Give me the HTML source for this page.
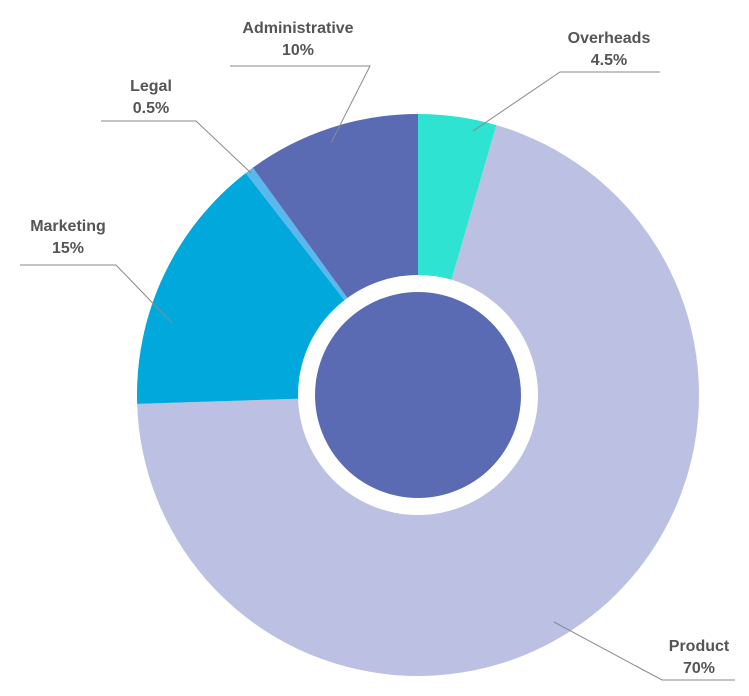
<!DOCTYPE html>
<html><head><meta charset="utf-8"><style>
html,body{margin:0;padding:0;background:#fff;}
svg{display:block;}
text{font-family:"Liberation Sans",sans-serif;font-weight:bold;font-size:16px;fill:#555;}
</style></head><body>
<svg width="749" height="696" viewBox="0 0 749 696">
<g id="slices"></g>
<circle cx="418" cy="395" r="120" fill="#fff"/>
<circle cx="418" cy="395" r="103" fill="#5a6ab3"/>
<g id="labels"></g>
</svg>
<script>
const categories = ["Overheads","Product","Marketing","Legal","Administrative"];
const values = [4.5, 70, 15, 0.5, 10];
const valueLabels = ["4.5%","70%","15%","0.5%","10%"];
const colors = ["#2ee3d2","#bcc0e2","#00a8dc","#5bb8ec","#5a6ab3"];
// label layout: [text center x, first line y, underline y, underline x1, x2, elbow x, target x, target y]
const layout = [
 [609,43,72,560,660,560,473,131],
 [699,651,680,662,735,662,554,622],
 [68,231,265,20,116,116,172,323],
 [151,91,121,101,196,196,251,173],
 [298,33,66,230,370,370,331,143]
];
const cx=418, cy=395, R=281;
const NS="http://www.w3.org/2000/svg";
const total=values.reduce((a,b)=>a+b,0);
const sg=document.getElementById('slices'), lg=document.getElementById('labels');
function pt(a,r){return [cx+r*Math.sin(a), cy-r*Math.cos(a)];}
let acc=0;
values.forEach((v,i)=>{
  const a0=acc/total*2*Math.PI; acc+=v; const a1=acc/total*2*Math.PI;
  const p0=pt(a0,R), p1=pt(a1,R);
  const large=(a1-a0)>Math.PI?1:0;
  const p=document.createElementNS(NS,'path');
  p.setAttribute('d',`M${cx},${cy} L${p0[0]},${p0[1]} A${R},${R} 0 ${large} 1 ${p1[0]},${p1[1]} Z`);
  p.setAttribute('fill',colors[i]);
  
  
  sg.appendChild(p);
  const L=layout[i];
  const pl=document.createElementNS(NS,'polyline');
  const ox = L[5]===L[3] ? L[4] : L[3];
  pl.setAttribute('points',`${ox},${L[2]} ${L[5]},${L[2]} ${L[6]},${L[7]}`);
  pl.setAttribute('fill','none');pl.setAttribute('stroke','#8a8a8a');pl.setAttribute('stroke-width','1');
  
  
  lg.appendChild(pl);
  const t1=document.createElementNS(NS,'text');
  t1.setAttribute('x',L[0]);t1.setAttribute('y',L[1]);t1.setAttribute('text-anchor','middle');
  t1.textContent=categories[i];
  
  
  lg.appendChild(t1);
  const t2=document.createElementNS(NS,'text');
  t2.setAttribute('x',L[0]);t2.setAttribute('y',L[1]+22);t2.setAttribute('text-anchor','middle');
  t2.textContent=valueLabels[i];
  
  
  lg.appendChild(t2);
});
</script>
</body></html>
